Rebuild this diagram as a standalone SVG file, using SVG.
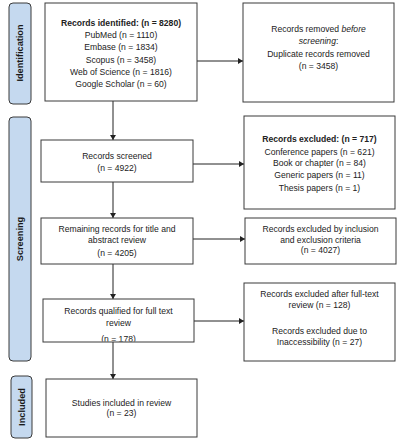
<svg xmlns="http://www.w3.org/2000/svg" width="401" height="440" viewBox="0 0 401 440">
<style>
.box{fill:#fff;stroke:#3a3a3a;stroke-width:1}
.phase{fill:#c5d9ef;stroke:#3a3a3a;stroke-width:1}
.t{font-family:"Liberation Sans",Arial,sans-serif;font-size:8.6px;fill:#222;text-anchor:middle}
.b{font-weight:bold}
.p{font-family:"Liberation Sans",Arial,sans-serif;font-size:9.2px;font-weight:bold;fill:#1a1a1a;text-anchor:middle}
.c{stroke:#222;stroke-width:1;fill:none;marker-end:url(#ah)}
</style>
<defs>
<marker id="ah" markerWidth="6" markerHeight="6" refX="5" refY="3" orient="auto" markerUnits="userSpaceOnUse">
<path d="M0,0 L5,3 L0,6 z" fill="#222"/>
</marker>
<clipPath id="qclip"><rect x="43" y="299" width="151" height="42.5"/></clipPath>
</defs>
<rect width="401" height="440" fill="#fff"/>

<g id="phase-identification">
<rect class="phase" x="9" y="3" width="22" height="101" rx="4"/>
<text class="p" transform="translate(23.2,53) rotate(-90)">Identification</text>
</g>
<g id="phase-screening">
<rect class="phase" x="9" y="117" width="22" height="244" rx="4"/>
<text class="p" transform="translate(23.2,239) rotate(-90)">Screening</text>
</g>
<g id="phase-included">
<rect class="phase" x="11" y="376" width="21" height="62" rx="4"/>
<text class="p" transform="translate(24.7,407) rotate(-90)">Included</text>
</g>

<g id="connectors">
<line class="c" x1="113" y1="101" x2="113" y2="140"/>
<line class="c" x1="197" y1="61" x2="243" y2="61"/>
<line class="c" x1="193" y1="164" x2="244" y2="164"/>
<line class="c" x1="113" y1="182" x2="113" y2="218"/>
<line class="c" x1="193" y1="239" x2="245" y2="239"/>
<line class="c" x1="113" y1="264" x2="113" y2="299"/>
<line class="c" x1="194" y1="321" x2="244" y2="321"/>
<line class="c" x1="113" y1="342" x2="113" y2="379"/>
</g>

<g id="identified">
<rect class="box" x="45" y="3" width="152" height="98"/>
<text class="t b" x="121" y="26">Records identified: (n = 8280)</text>
<text class="t" x="121" y="38">PubMed (n = 1110)</text>
<text class="t" x="121" y="50">Embase (n = 1834)</text>
<text class="t" x="121" y="63">Scopus (n = 3458)</text>
<text class="t" x="121" y="75">Web of Science (n = 1816)</text>
<text class="t" x="121" y="87">Google Scholar (n = 60)</text>
</g>

<g id="removed">
<rect class="box" x="243" y="3" width="151" height="99"/>
<text class="t" x="318.5" y="32">Records removed <tspan font-style="italic">before</tspan></text>
<text class="t" x="318.5" y="44"><tspan font-style="italic">screening</tspan>:</text>
<text class="t" x="318.5" y="57">Duplicate records removed</text>
<text class="t" x="318.5" y="69">(n = 3458)</text>
</g>

<g id="screened">
<rect class="box" x="41" y="140" width="152" height="42"/>
<text class="t" x="117" y="159">Records screened</text>
<text class="t" x="117" y="171">(n = 4922)</text>
</g>

<g id="excluded717">
<rect class="box" x="244" y="116" width="151" height="93"/>
<text class="t b" x="319.5" y="142">Records excluded: (n = 717)</text>
<text class="t" x="319.5" y="155">Conference papers (n = 621)</text>
<text class="t" x="319.5" y="166">Book or chapter (n = 84)</text>
<text class="t" x="319.5" y="178">Generic papers (n = 11)</text>
<text class="t" x="319.5" y="191">Thesis papers (n = 1)</text>
</g>

<g id="remaining">
<rect class="box" x="41" y="218" width="152" height="46"/>
<text class="t" x="117" y="232">Remaining records for title and</text>
<text class="t" x="117" y="243">abstract review</text>
<text class="t" x="117" y="256">(n = 4205)</text>
</g>

<g id="excluded-criteria">
<rect class="box" x="245" y="218" width="151" height="46"/>
<text class="t" x="320.5" y="232">Records excluded by inclusion</text>
<text class="t" x="320.5" y="243">and exclusion criteria</text>
<text class="t" x="320.5" y="253">(n = 4027)</text>
</g>

<g id="qualified">
<rect class="box" x="43" y="299" width="151" height="43"/>
<g clip-path="url(#qclip)">
<text class="t" x="118.5" y="314">Records qualified for full text</text>
<text class="t" x="118.5" y="326">review</text>
<text class="t" x="118.5" y="342">(n = 178)</text>
</g>
</g>

<g id="excluded-fulltext">
<rect class="box" x="244" y="283" width="151" height="78"/>
<text class="t" x="319.5" y="297">Records excluded after full-text</text>
<text class="t" x="319.5" y="308">review (n = 128)</text>
<text class="t" x="319.5" y="334">Records excluded due to</text>
<text class="t" x="319.5" y="345">Inaccessibility (n = 27)</text>
</g>

<g id="studies">
<rect class="box" x="46" y="379" width="151" height="58"/>
<text class="t" x="121.5" y="406">Studies included in review</text>
<text class="t" x="121.5" y="416">(n = 23)</text>
</g>
</svg>
